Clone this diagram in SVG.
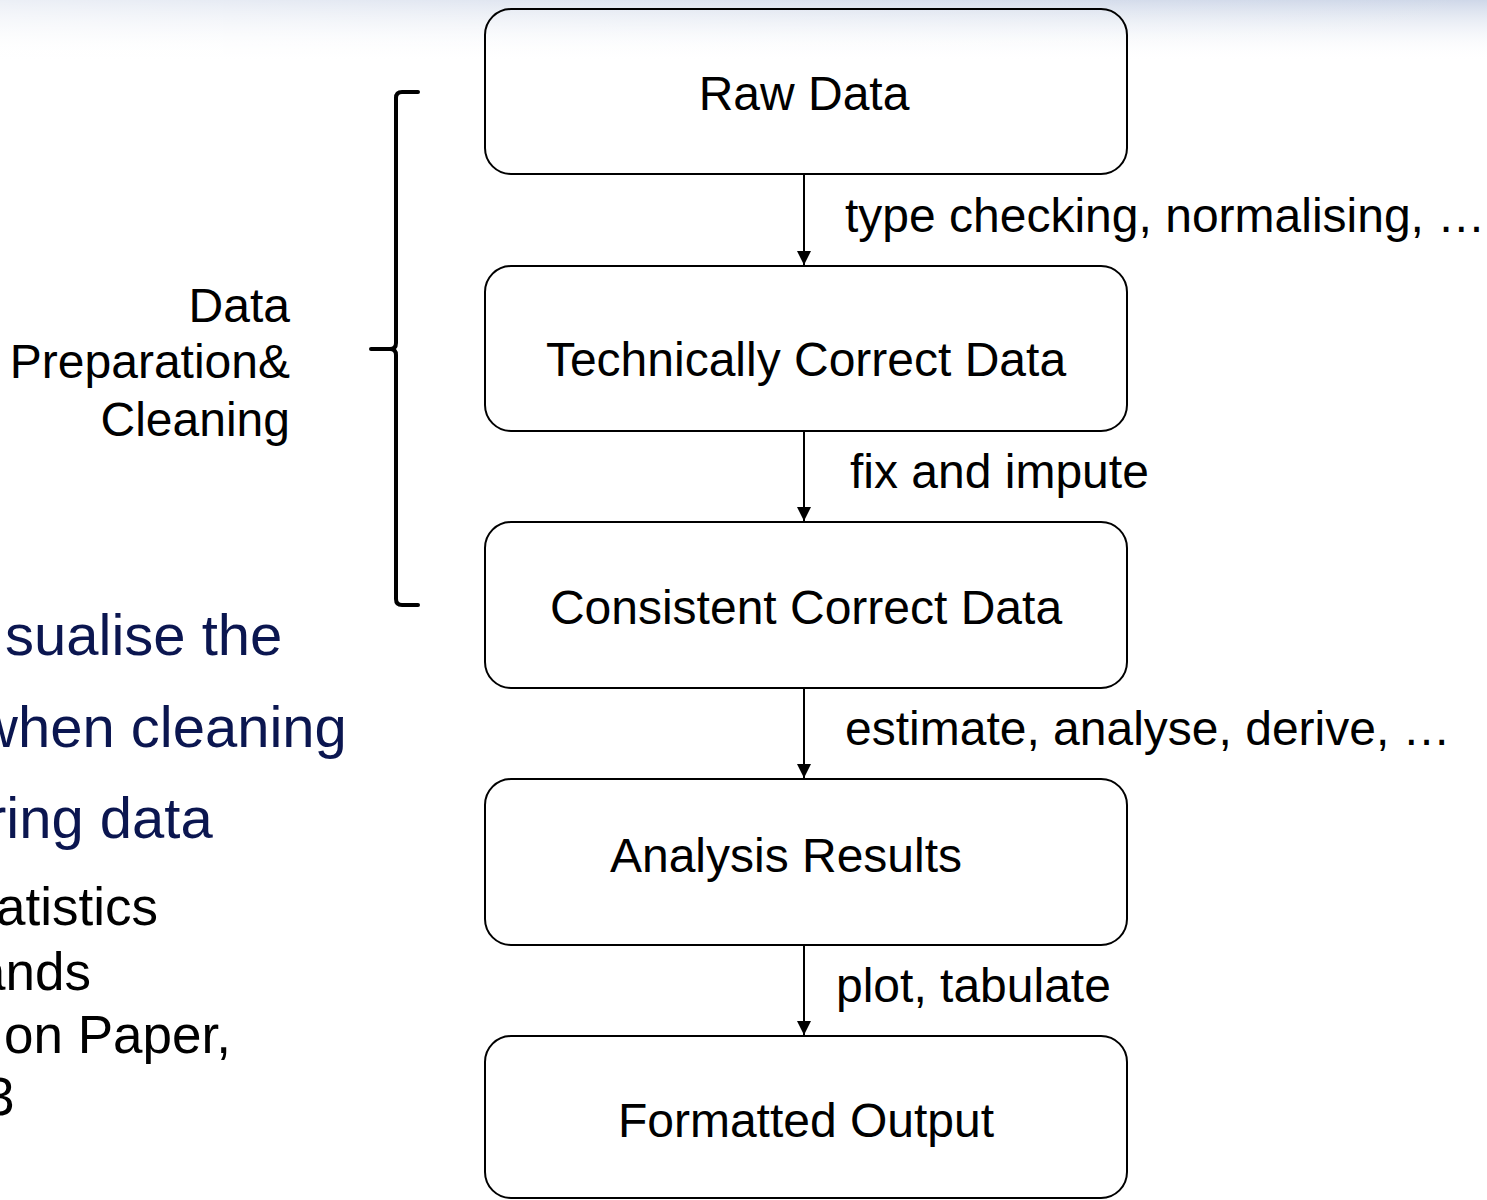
<svg xmlns="http://www.w3.org/2000/svg" width="1487" height="1200" viewBox="0 0 1487 1200">
<defs>
<linearGradient id="bgV" x1="0" y1="0" x2="0" y2="1">
<stop offset="0" stop-color="#c9d3e6" stop-opacity="0.9"/>
<stop offset="1" stop-color="#ffffff" stop-opacity="0"/>
</linearGradient>
<linearGradient id="bgH" x1="0" y1="0" x2="1" y2="0">
<stop offset="0" stop-color="#ffffff" stop-opacity="0.6"/>
<stop offset="0.6" stop-color="#ffffff" stop-opacity="0.2"/>
<stop offset="1" stop-color="#ffffff" stop-opacity="0"/>
</linearGradient>
<marker id="ah" viewBox="0 0 10 10" refX="10" refY="5" markerWidth="14" markerHeight="14" markerUnits="userSpaceOnUse" orient="auto">
<path d="M0,0 L10,5 L0,10 z" fill="#000"/>
</marker>
<style>
.box{fill:none;stroke:#000;stroke-width:2}
.t{font-family:"Liberation Sans",Arial,sans-serif;font-size:48px;fill:#000}
.c{text-anchor:middle}
.blue{font-family:"Liberation Sans",Arial,sans-serif;font-size:58px;fill:#0b1650}
.blk{font-family:"Liberation Sans",Arial,sans-serif;font-size:53px;fill:#000}
.conn{stroke:#000;stroke-width:2;fill:none}
</style>
</defs>
<rect width="1487" height="1200" fill="#fff"/>
<rect x="0" y="0" width="1487" height="62" fill="url(#bgV)"/>
<rect x="0" y="0" width="1487" height="62" fill="url(#bgH)"/>
<g id="background-text">
<text class="blue" x="5" y="655">sualise the</text>
<text class="blue" x="-24" y="747">when cleaning</text>
<text class="blue" x="-13" y="838">ring data</text>
<text class="blk" x="-4" y="925">atistics</text>
<text class="blk" x="-24" y="990">ands</text>
<text class="blk" x="4" y="1053">on Paper,</text>
<text class="blk" x="-15" y="1115">3</text>
</g>
<g id="bracket">
<path d="M418,92 L402,92 Q396,92 396,98 L396,343 Q396,349 390,349 L371,349 M390,349 Q396,349 396,355 L396,599 Q396,605 402,605 L418,605" fill="none" stroke="#000" stroke-width="4" stroke-linecap="round"/>
<text class="t" text-anchor="end" x="290" y="322">Data</text>
<text class="t" text-anchor="end" x="290" y="378">Preparation&amp;</text>
<text class="t" text-anchor="end" x="290" y="436">Cleaning</text>
</g>
<g id="connectors">
<line class="conn" x1="804" y1="175" x2="804" y2="265" marker-end="url(#ah)"/>
<line class="conn" x1="804" y1="432" x2="804" y2="521" marker-end="url(#ah)"/>
<line class="conn" x1="804" y1="689" x2="804" y2="778" marker-end="url(#ah)"/>
<line class="conn" x1="804" y1="946" x2="804" y2="1035" marker-end="url(#ah)"/>
<text class="t" x="845" y="232">type checking, normalising, …</text>
<text class="t" x="850" y="488">fix and impute</text>
<text class="t" x="845" y="745">estimate, analyse, derive, …</text>
<text class="t" x="836" y="1002">plot, tabulate</text>
</g>
<g id="raw-data">
<rect class="box" x="485" y="9" width="642" height="165" rx="26"/>
<text class="t c" x="804" y="110">Raw Data</text>
</g>
<g id="technically-correct-data">
<rect class="box" x="485" y="266" width="642" height="165" rx="26"/>
<text class="t c" x="806" y="376">Technically Correct Data</text>
</g>
<g id="consistent-correct-data">
<rect class="box" x="485" y="522" width="642" height="166" rx="26"/>
<text class="t c" x="806" y="624">Consistent Correct Data</text>
</g>
<g id="analysis-results">
<rect class="box" x="485" y="779" width="642" height="166" rx="26"/>
<text class="t c" x="786" y="872">Analysis Results</text>
</g>
<g id="formatted-output">
<rect class="box" x="485" y="1036" width="642" height="162" rx="26"/>
<text class="t c" x="806" y="1137">Formatted Output</text>
</g>
</svg>
